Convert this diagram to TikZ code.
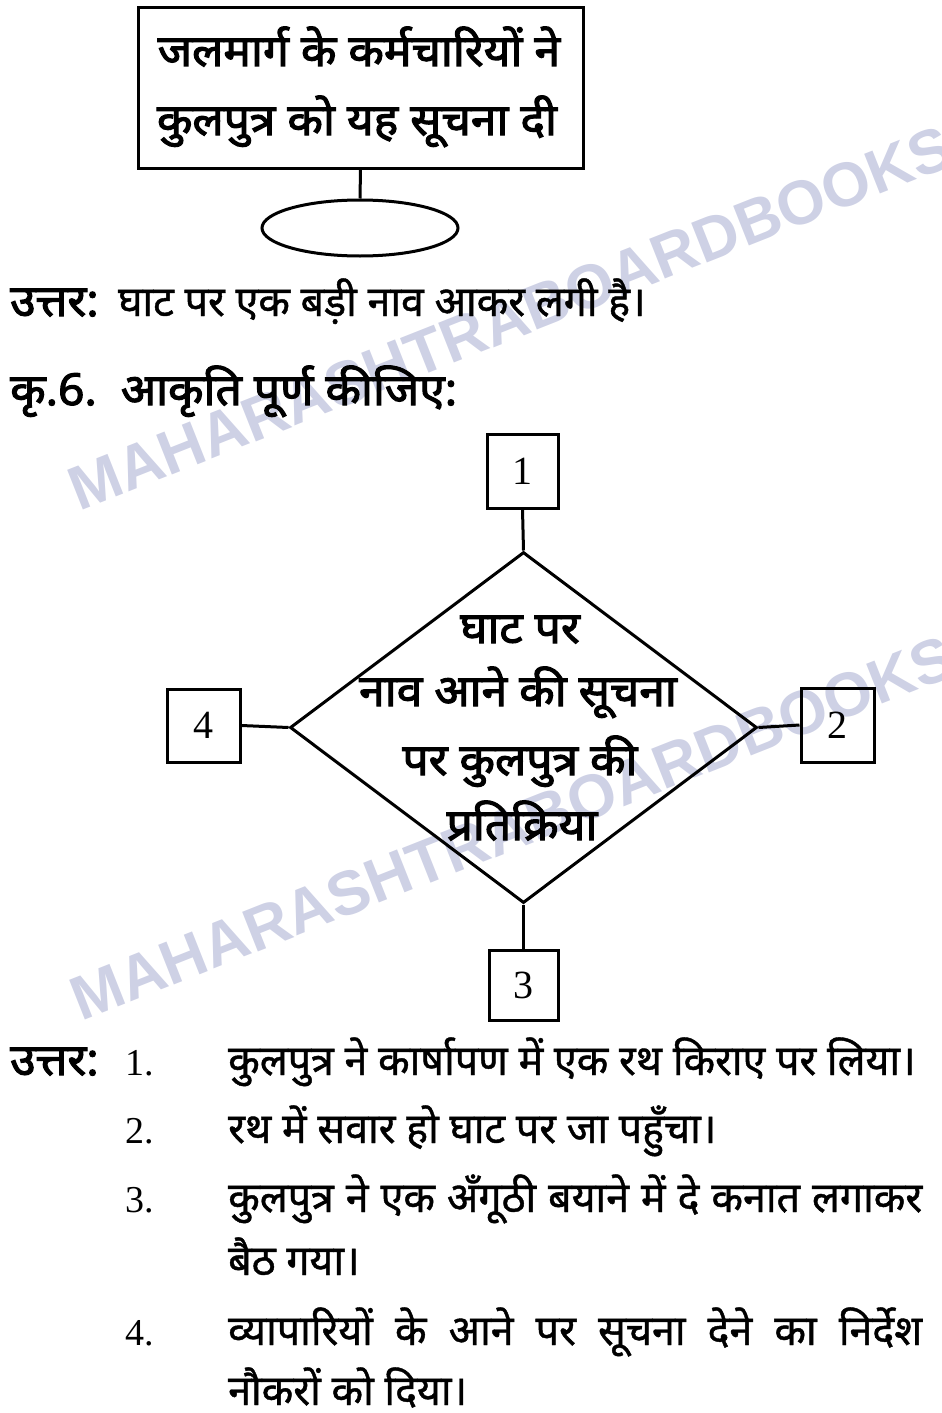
\documentclass[tikz,border=0pt]{standalone}
\usepackage{fontspec}
\usetikzlibrary{shapes.geometric}
\newfontfamily\devB[Script=Devanagari,FakeStretch=1.05,FakeBold=2.5]{Noto Sans}
\newfontfamily\devR[Script=Devanagari,FakeStretch=0.98,FakeBold=1]{Noto Sans}
\newfontfamily\numf{Liberation Serif}
\newfontfamily\wmf{Liberation Sans}
\definecolor{wm}{RGB}{206,209,229}
\begin{document}
\begin{tikzpicture}[x=1pt,y=-1pt,
  ln/.style={line width=3pt},
  boxn/.style={draw,ln,rectangle,inner sep=0pt},
  numbox/.style={boxn,font=\numf\fontsize{40}{40}\selectfont},
  devb/.style={font=\devB\fontsize{44}{44}\selectfont,inner sep=0pt},
  devr/.style={font=\devR\fontsize{42}{42}\selectfont,inner sep=0pt},
  numr/.style={font=\numf\fontsize{38}{38}\selectfont,inner sep=0pt},
  wmark/.style={font=\wmf\bfseries\fontsize{62}{62}\selectfont,text=wm,rotate=21.6,inner sep=0pt}]
\useasboundingbox (0,0) rectangle (942,1413);
% watermark
\node[wmark] (wm1) at (510,318) {MAHARASHTRABOARDBOOKS};
\node[wmark] (wm2) at (512,828) {MAHARASHTRABOARDBOOKS};
% top box
\node[boxn,minimum width=445pt,minimum height=160pt] (top) at (360.5,88) {};
\node[devb,anchor=base] (t1) at (359,66) {जलमार्ग के कर्मचारियों ने};
\node[devb,anchor=base] (t2) at (357,135) {कुलपुत्र को यह सूचना दी};
\node[draw,ln,ellipse,minimum width=196pt,minimum height=56pt,inner sep=0pt] (ell) at (360,228) {};
\draw[ln] (top.south) -- (ell.north);
% answer 1
\node[devb,anchor=base west] (a0) at (10,316) {उत्तर:};
\node[devr,anchor=base west] (a1) at (118,316) {घाट पर एक बड़ी नाव आकर लगी है।};
\node[devb,anchor=base west] (q6) at (10,405) {कृ.6.\ \ आकृति पूर्ण कीजिए:};
% diamond
\node[draw,ln,diamond,minimum width=467pt,minimum height=351pt,inner sep=0pt] (d) at (523.5,727.5) {};
\node[devb,anchor=base] (d1) at (520,643) {घाट पर};
\node[devb,anchor=base] (d2) at (518,706) {नाव आने की सूचना};
\node[devb,anchor=base] (d3) at (520,775) {पर कुलपुत्र की};
\node[devb,anchor=base] (d4) at (522,840) {प्रतिक्रिया};
\node[numbox,minimum width=71pt,minimum height=74pt] (b1) at (522.5,471) {1};
\node[numbox,minimum width=73pt,minimum height=74pt] (b2) at (837.5,725) {2};
\node[numbox,minimum width=69pt,minimum height=70pt] (b3) at (523.5,985) {3};
\node[numbox,minimum width=73pt,minimum height=73pt] (b4) at (203.5,725.5) {4};
\draw[ln] (b1.south) -- (d.north);
\draw[ln] (d.east) -- (b2.west);
\draw[ln] (d.south) -- (b3.north);
\draw[ln] (b4.east) -- (d.west);
% answers list
\node[devb,anchor=base west] (u) at (10,1075) {उत्तर:};
\node[numr,anchor=base west] (n1) at (125,1075) {1.};
\node[numr,anchor=base west] (n2) at (125,1143) {2.};
\node[numr,anchor=base west] (n3) at (125,1212) {3.};
\node[numr,anchor=base west] (n4) at (125,1345) {4.};
\node[devr,anchor=base west] (l1) at (228,1075) {कुलपुत्र ने कार्षापण में एक रथ किराए पर लिया।};
\node[devr,anchor=base west] (l2) at (228,1143) {रथ में सवार हो घाट पर जा पहुँचा।};
\node[devr,anchor=base west] (l3) at (228,1212) {\makebox[694pt][s]{कुलपुत्र ने एक अँगूठी बयाने में दे कनात लगाकर}};
\node[devr,anchor=base west] (l3b) at (228,1275) {बैठ गया।};
\node[devr,anchor=base west] (l4) at (228,1345) {\makebox[694pt][s]{व्यापारियों के आने पर सूचना देने का निर्देश}};
\node[devr,anchor=base west] (l4b) at (228,1405) {नौकरों को दिया।};
\end{tikzpicture}
\end{document}
